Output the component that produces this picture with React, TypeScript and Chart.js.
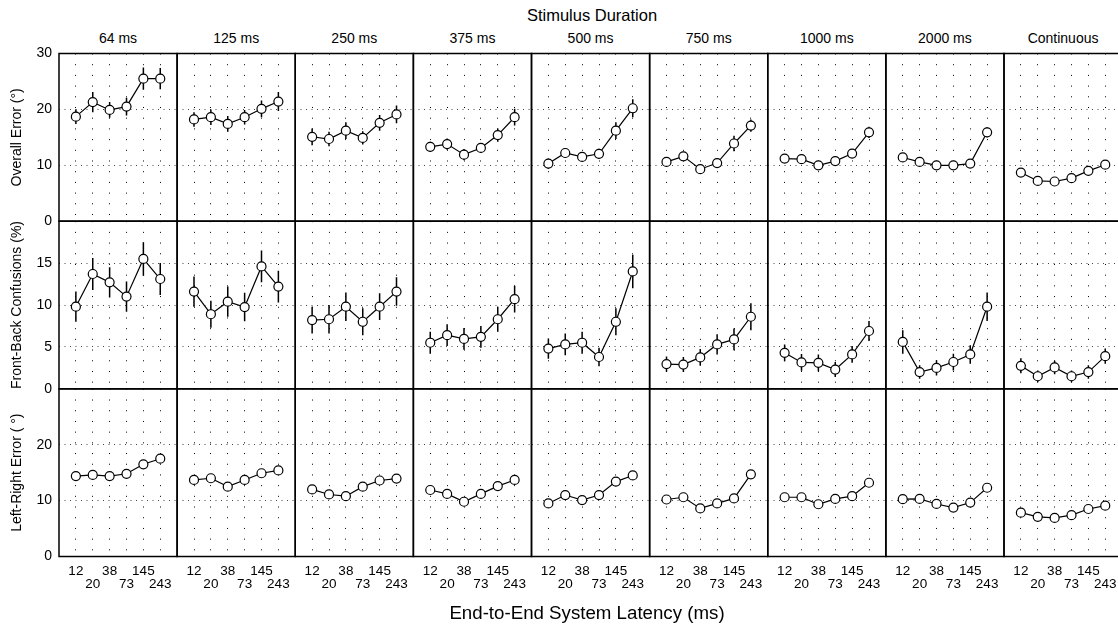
import React, { useEffect, useRef } from 'react';
import { Chart, registerables } from 'chart.js';

Chart.register(...registerables);

const FONT = "'Liberation Sans', Arial, Helvetica, sans-serif";

const durations = ['64 ms', '125 ms', '250 ms', '375 ms', '500 ms', '750 ms', '1000 ms', '2000 ms', 'Continuous'];
const latencyLabels = ['12', '20', '38', '73', '145', '243'];

// Overall error (deg), one row per stimulus duration
const overallError = [
  [18.7, 21.3, 19.9, 20.5, 25.5, 25.5],
  [18.2, 18.6, 17.4, 18.6, 20.1, 21.4],
  [15.1, 14.7, 16.2, 14.9, 17.6, 19.1],
  [13.3, 13.8, 11.9, 13.1, 15.4, 18.6],
  [10.3, 12.2, 11.5, 12.05, 16.2, 20.2],
  [10.6, 11.6, 9.3, 10.4, 13.9, 17.1],
  [11.2, 11.1, 10.0, 10.75, 12.1, 15.9],
  [11.4, 10.6, 10.0, 10.0, 10.3, 15.9],
  [8.7, 7.2, 7.1, 7.7, 9.0, 10.1],
];
const overallErrorSE = [
  [1.3, 1.8, 1.4, 1.6, 2.0, 1.9],
  [1.3, 1.4, 1.4, 1.3, 1.5, 1.7],
  [1.5, 1.3, 1.5, 1.2, 1.4, 1.6],
  [0.9, 1.0, 1.0, 0.9, 1.2, 1.5],
  [0.9, 0.9, 0.8, 0.9, 1.5, 1.6],
  [0.8, 0.8, 0.8, 0.8, 1.4, 1.1],
  [0.7, 0.7, 0.7, 0.7, 0.8, 1.0],
  [0.6, 0.6, 0.6, 0.6, 0.6, 0.9],
  [0.6, 0.5, 0.5, 0.5, 0.6, 0.6],
];

// Front-back confusions (%)
const frontBack = [
  [9.8, 13.7, 12.7, 11.0, 15.5, 13.1],
  [11.6, 8.9, 10.4, 9.75, 14.6, 12.2],
  [8.2, 8.3, 9.8, 8.0, 9.8, 11.6],
  [5.5, 6.4, 5.95, 6.2, 8.3, 10.7],
  [4.8, 5.3, 5.5, 3.8, 8.0, 14.0],
  [2.95, 2.9, 3.75, 5.3, 5.9, 8.6],
  [4.3, 3.15, 3.1, 2.3, 4.1, 6.9],
  [5.6, 2.0, 2.5, 3.2, 4.1, 9.8],
  [2.75, 1.5, 2.55, 1.5, 2.0, 3.9],
];
const frontBackSE = [
  [1.8, 1.9, 1.8, 1.8, 2.0, 1.9],
  [1.8, 1.6, 1.8, 1.7, 1.9, 1.9],
  [1.6, 1.7, 1.7, 1.6, 1.6, 1.7],
  [1.3, 1.3, 1.3, 1.3, 1.5, 1.6],
  [1.2, 1.3, 1.3, 1.1, 1.6, 2.0],
  [0.9, 0.9, 1.0, 1.2, 1.3, 1.6],
  [1.0, 1.0, 1.0, 0.9, 1.0, 1.2],
  [1.4, 0.8, 0.9, 1.0, 1.1, 1.7],
  [0.9, 0.7, 0.8, 0.7, 0.8, 0.9],
];

// Left-right error (deg)
const leftRight = [
  [14.4, 14.6, 14.4, 14.8, 16.5, 17.5],
  [13.7, 14.0, 12.5, 13.7, 14.9, 15.4],
  [12.0, 11.1, 10.8, 12.5, 13.6, 13.95],
  [11.9, 11.2, 9.8, 11.2, 12.6, 13.7],
  [9.5, 11.0, 10.1, 11.0, 13.4, 14.5],
  [10.2, 10.6, 8.6, 9.5, 10.4, 14.7],
  [10.6, 10.6, 9.35, 10.3, 10.8, 13.2],
  [10.25, 10.3, 9.4, 8.75, 9.65, 12.3],
  [7.85, 7.1, 6.9, 7.4, 8.5, 9.1],
];
const leftRightSE = [
  [0.6, 0.6, 0.6, 0.6, 0.6, 0.6],
  [0.6, 0.6, 0.6, 0.6, 0.6, 0.6],
  [0.6, 0.6, 0.6, 0.6, 0.6, 0.6],
  [0.6, 0.6, 0.6, 0.6, 0.6, 0.6],
  [0.6, 0.6, 0.6, 0.6, 0.6, 0.6],
  [0.6, 0.6, 0.6, 0.6, 0.6, 0.6],
  [0.6, 0.6, 0.6, 0.6, 0.6, 0.6],
  [0.6, 0.6, 0.6, 0.6, 0.6, 0.6],
  [0.6, 0.6, 0.6, 0.6, 0.6, 0.6],
];

const rowTitles = ['Overall Error (°)', 'Front-Back Confusions (%)', 'Left-Right Error ( °)'];
const rowMax = [30, 20, 30];
const rowStep = [10, 5, 10];
const rowValues = [overallError, frontBack, leftRight];
const rowErrors = [overallErrorSE, frontBackSE, leftRightSE];

// layout
const GRID_LEFT = 59;
const GRID_TOP = 53.5;
const COL_W = 118.125;
const ROW_H = 167.67;
const M = 10;
const X_LABEL_H = 36;

const framePlugin = {
  id: 'frame',
  beforeDatasetsDraw(chart: any) {
    const { ctx, chartArea } = chart;
    const { left, top, right, bottom } = chartArea;
    ctx.save();
    ctx.strokeStyle = '#000';
    ctx.lineWidth = 1.5;
    ctx.strokeRect(left, top, right - left, bottom - top);
    ctx.restore();
  },
};

function Panel({ row, col }: { row: number; col: number }) {
  const ref = useRef<HTMLCanvasElement | null>(null);
  const left = GRID_LEFT + col * COL_W;
  const top = GRID_TOP + row * ROW_H;
  const right = left + COL_W;
  const bottom = top + ROW_H;
  const firstCol = col === 0;
  const lastRow = row === 2;
  const cLeft = firstCol ? 0 : Math.floor(left - M);
  const cTop = Math.floor(top - M);
  const cRight = Math.ceil(right + M);
  const cBottom = Math.ceil(bottom + M + (lastRow ? X_LABEL_H : 0));
  const w = cRight - cLeft;
  const h = cBottom - cTop;

  useEffect(() => {
    const canvas = ref.current;
    if (!canvas) return;
    const values = rowValues[row][col];
    const errs = rowErrors[row][col];
    const yMax = rowMax[row];
    const yW = firstCol ? left - cLeft : 0;
    const errData: any[] = [];
    values.forEach((v, i) => {
      errData.push({ x: i + 1, y: v - errs[i] });
      errData.push({ x: i + 1, y: v + errs[i] });
      errData.push({ x: i + 1, y: null });
    });
    const chart = new Chart(canvas, {
      type: 'line',
      data: {
        datasets: [
          {
            data: values.map((v, i) => ({ x: i + 1, y: v })),
            borderColor: '#000',
            borderWidth: 1.2,
            pointRadius: 4.5,
            pointBackgroundColor: '#fff',
            pointBorderColor: '#000',
            pointBorderWidth: 1.2,
            order: 0,
            clip: false,
          } as any,
          {
            data: errData,
            borderColor: '#000',
            borderWidth: 1.5,
            pointRadius: 0,
            spanGaps: false,
            order: 1,
            clip: false,
          } as any,
        ],
      },
      options: {
        animation: false,
        responsive: false,
        maintainAspectRatio: false,
        events: [],
        layout: {
          padding: {
            left: firstCol ? 0 : left - cLeft,
            top: top - cTop,
            right: cRight - right,
            bottom: cBottom - bottom - (lastRow ? X_LABEL_H : 0),
          },
        },
        plugins: {
          legend: { display: false },
          tooltip: { enabled: false },
          title: { display: false },
        },
        scales: {
          x: {
            type: 'linear',
            min: 0,
            max: 7,
            afterBuildTicks: (s: any) => {
              s.ticks = latencyLabels.map((_, i) => ({ value: i + 1 }));
            },
            afterFit: (s: any) => {
              s.height = lastRow ? X_LABEL_H : 0;
              s.paddingLeft = 0;
              s.paddingRight = 0;
            },
            ticks: {
              display: lastRow,
              autoSkip: false,
              maxRotation: 0,
              minRotation: 0,
              padding: 8.3,
              color: '#000',
              font: { family: FONT, size: 13.5, lineHeight: 0.98 },
              callback: (v: any) => {
                const i = Math.round(Number(v)) - 1;
                const lab = latencyLabels[i] ?? '';
                return i % 2 === 0 ? [lab, ''] : ['', lab];
              },
            },
            grid: { color: '#000', lineWidth: 1, drawTicks: false, borderDash: [1, 9.7] } as any,
            border: { display: false, dash: [1, 9.7] },
          },
          y: {
            type: 'linear',
            min: 0,
            max: yMax,
            afterFit: (s: any) => {
              s.width = yW;
              s.paddingTop = 0;
              s.paddingBottom = 0;
            },
            ticks: {
              display: firstCol,
              stepSize: rowStep[row],
              padding: 7,
              color: '#000',
              font: { family: FONT, size: 14 },
              callback: (v: any) => (row > 0 && Number(v) === yMax ? '' : String(v)),
            },
            title: {
              display: firstCol,
              text: rowTitles[row],
              color: '#000',
              font: { family: FONT, size: 14 },
              padding: { top: 9, bottom: 0 },
            },
            grid: { color: '#444', lineWidth: 1, drawTicks: false, borderDash: [1, 4.5] } as any,
            border: { display: false, dash: [1, 4.5] },
          },
        },
      } as any,
      plugins: [framePlugin],
    });
    return () => chart.destroy();
  }, [row, col]);

  return (
    <canvas
      ref={ref}
      width={w}
      height={h}
      style={{ position: 'absolute', left: cLeft, top: cTop, width: w, height: h }}
    />
  );
}

export default function App() {
  const panels: JSX.Element[] = [];
  for (let r = 0; r < 3; r++) {
    for (let c = 0; c < durations.length; c++) {
      panels.push(<Panel key={`${r}-${c}`} row={r} col={c} />);
    }
  }
  const textBase: React.CSSProperties = {
    position: 'absolute',
    fontFamily: FONT,
    color: '#000',
    whiteSpace: 'nowrap',
    transform: 'translateX(-50%)',
  };
  return (
    <div
      style={{
        position: 'absolute',
        left: 0,
        top: 0,
        width: 1118,
        height: 626,
        overflow: 'hidden',
        background: '#fff',
      }}
    >
      <div style={{ ...textBase, left: 592, top: 7.2, fontSize: 16.5, lineHeight: '16.5px' }}>
        Stimulus Duration
      </div>
      {durations.map((d, i) => (
        <div
          key={d}
          style={{
            ...textBase,
            left: GRID_LEFT + i * COL_W + COL_W / 2,
            top: 30.9,
            fontSize: 14,
            lineHeight: '14px',
          }}
        >
          {d}
        </div>
      ))}
      {panels}
      <div style={{ ...textBase, left: 587, top: 604.1, fontSize: 18.7, lineHeight: '18.7px' }}>
        End-to-End System Latency (ms)
      </div>
    </div>
  );
}
